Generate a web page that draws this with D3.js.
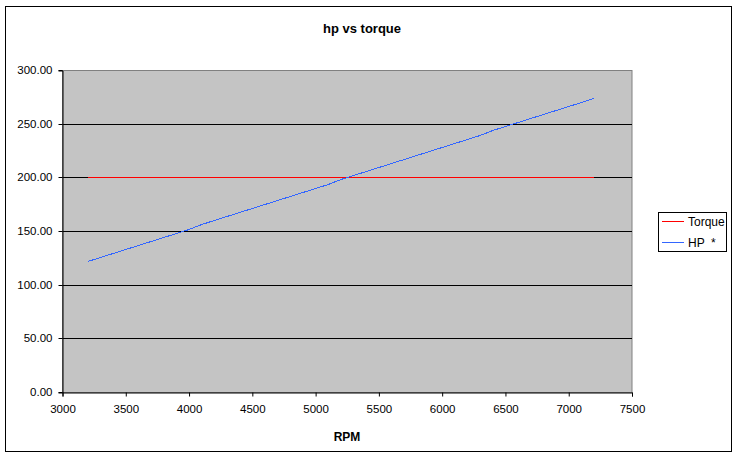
<!DOCTYPE html>
<html>
<head>
<meta charset="utf-8">
<script src="https://cdn.jsdelivr.net/npm/d3@7"></script>
<style>
  body { margin: 0; background: #fff; }
  svg text { font-family: "Liberation Sans", Arial, sans-serif; }
</style>
</head>
<body>
<div id="chart"></div>
<script>
// data
var rpm = [3200, 3300, 3400, 3500, 3600, 3700, 3800, 3900, 4000, 4100, 4200, 4300, 4400, 4500,
  4600, 4700, 4800, 4900, 5000, 5100, 5200, 5300, 5400, 5500, 5600, 5700, 5800, 5900, 6000,
  6100, 6200, 6300, 6400, 6500, 6600, 6700, 6800, 6900, 7000, 7100, 7200];
var torque = [200, 200, 200, 200, 200, 200, 200, 200, 200, 200, 200, 200, 200, 200,
  200, 200, 200, 200, 200, 200, 200, 200, 200, 200, 200, 200, 200, 200, 200,
  200, 200, 200, 200, 200, 200, 200, 200, 200, 200, 200, 200];
var hp = [121.9, 125.7, 129.5, 133.3, 137.1, 140.9, 144.7, 148.5, 152.3, 156.1, 159.9, 163.7, 167.6, 171.4,
  175.2, 179.0, 182.8, 186.6, 190.4, 194.2, 198.0, 201.8, 205.6, 209.4, 213.3, 217.1, 220.9, 224.7, 228.5,
  232.3, 236.1, 239.9, 243.7, 247.5, 251.3, 255.1, 259.0, 262.8, 266.6, 270.4, 274.2];
var xTicks = [3000, 3500, 4000, 4500, 5000, 5500, 6000, 6500, 7000, 7500];
var yTicks = [0, 50, 100, 150, 200, 250, 300];
var seriesNames = ["Torque", "HP  *"];
var seriesColors = ["#ff0000", "#3366ff"];

var W = 737, H = 458;
var plot = {left: 62.5, right: 632, top: 70.5, bottom: 392.5};

var svg = d3.select("#chart").append("svg")
  .attr("width", W).attr("height", H);

// outer chart border
svg.append("rect")
  .attr("x", 5.5).attr("y", 6.5).attr("width", 726).attr("height", 445)
  .attr("fill", "#fff").attr("stroke", "#000").attr("stroke-width", 1);

var x = d3.scaleLinear().domain([3000, 7500]).range([plot.left, plot.right]);
var y = d3.scaleLinear().domain([0, 300]).range([plot.bottom, plot.top]);
var py = function(v) { return Math.round(y(v) - 0.5) + 0.5; };

// plot area
svg.append("rect")
  .attr("x", plot.left).attr("y", plot.top)
  .attr("width", plot.right - plot.left).attr("height", plot.bottom - plot.top)
  .attr("fill", "#c4c4c4").attr("stroke", "#808080");

// gridlines
svg.append("g").selectAll("line")
  .data(yTicks.filter(function(d) { return d > 0 && d < 300; }))
  .enter().append("line")
  .attr("x1", plot.left).attr("x2", plot.right)
  .attr("y1", function(d) { return py(d); })
  .attr("y2", function(d) { return py(d); })
  .attr("stroke", "#000");

// axes
var yAxis = svg.append("g")
  .attr("transform", "translate(" + plot.left + ",0)")
  .call(d3.axisLeft(y).tickValues(yTicks).tickSize(4).tickPadding(6)
    .tickFormat(function(d) { return d3.format(".2f")(d); }));
var xAxis = svg.append("g")
  .attr("transform", "translate(0," + plot.bottom + ")")
  .call(d3.axisBottom(x).tickValues(xTicks).tickSize(4).tickPadding(8)
    .tickFormat(d3.format("d")));
[xAxis, yAxis].forEach(function(a) {
  a.select(".domain").attr("stroke", "#000");
  a.selectAll(".tick line").attr("stroke", "#000");
  a.selectAll("text").attr("fill", "#000").style("font-size", "11.5px")
    .style("font-family", "'Liberation Sans', Arial, sans-serif");
});
yAxis.selectAll(".tick").attr("transform", function(d) { return "translate(0," + py(d) + ")"; });

// series lines
var lineGen = d3.line()
  .x(function(d, i) { return x(rpm[i]); })
  .y(function(d) { return py(d); });
[torque, hp].forEach(function(vals, i) {
  svg.append("path").attr("d", lineGen(vals))
    .attr("fill", "none")
    .style("stroke", seriesColors[i]).style("stroke-width", "1px")
    .attr("shape-rendering", "crispEdges");
});

// title & axis title
svg.append("text").attr("x", 362).attr("y", 33)
  .attr("text-anchor", "middle").style("font-size", "13px").style("font-weight", "bold")
  .text("hp vs torque");
svg.append("text").attr("x", 347).attr("y", 441)
  .attr("text-anchor", "middle").style("font-size", "12px").style("font-weight", "bold")
  .text("RPM");

// legend
var lg = svg.append("g");
lg.append("rect").attr("x", 658.5).attr("y", 212.5).attr("width", 68).attr("height", 39)
  .attr("fill", "#fff").attr("stroke", "#000");
seriesNames.forEach(function(name, i) {
  var yy = 221.5 + i * 21;
  lg.append("line").attr("x1", 662).attr("x2", 684).attr("y1", yy).attr("y2", yy)
    .style("stroke", seriesColors[i]).style("stroke-width", "1px");
  lg.append("text").attr("x", 688).attr("y", yy + 4).style("font-size", "12px")
    .attr("xml:space", "preserve").style("white-space", "pre").text(name);
});
</script>
</body>
</html>
